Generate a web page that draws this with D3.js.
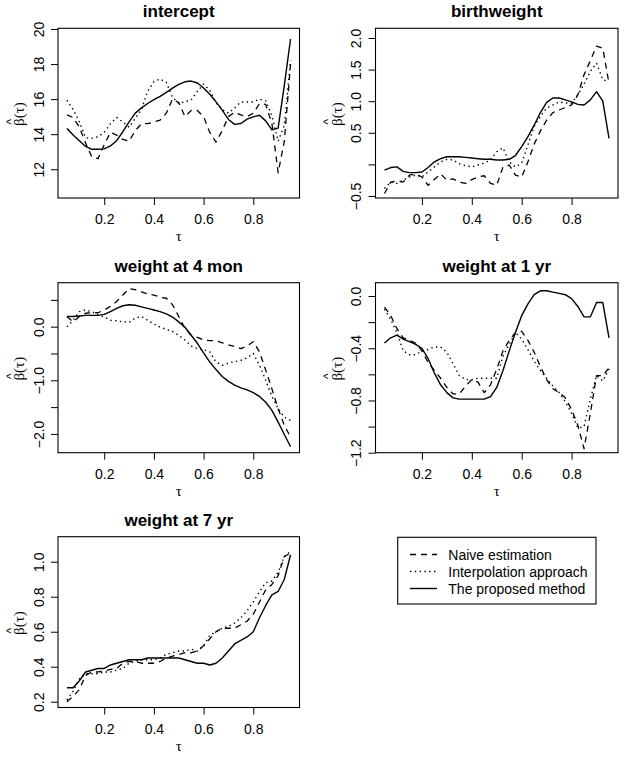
<!DOCTYPE html>
<html><head><meta charset="utf-8">
<script src="https://cdn.jsdelivr.net/npm/d3@7"></script>
<style>body{margin:0;background:#fff} svg{display:block}</style>
</head><body><svg id="c" width="624" height="760"></svg>
<script>
// ---------- data ----------
const tau = [0.05,0.075,0.1,0.125,0.15,0.175,0.2,0.225,0.25,0.275,0.3,0.325,0.35,0.375,0.4,0.425,0.45,0.475,0.5,0.525,0.55,0.575,0.6,0.625,0.65,0.675,0.7,0.725,0.75,0.775,0.8,0.825,0.85,0.875,0.9,0.925,0.95];

const interceptNaive = [15.1,14.95,14.4,13.5,12.7,12.6,13.4,14.1,13.95,13.7,13.6,14.2,14.6,14.6,14.7,14.8,15.2,16.0,15.8,15.0,15.35,15.35,15.0,14.1,13.55,14.2,15.0,15.25,15.1,15.0,15.2,15.75,15.7,14.6,11.8,13.6,18.0];
const interceptInterp = [15.94,15.4,14.7,13.8,13.76,13.85,14.1,14.6,14.95,14.7,14.4,14.9,15.4,16.45,17.0,17.15,16.95,16.1,15.75,15.85,15.95,16.45,16.85,16.5,15.8,15.4,15.2,15.5,15.84,15.84,15.84,16.0,15.9,15.05,13.6,14.5,18.2];
const interceptProposed = [14.33,13.95,13.63,13.30,13.14,13.14,13.16,13.33,13.63,14.14,14.70,15.20,15.50,15.75,15.97,16.16,16.39,16.63,16.84,16.99,17.03,16.92,16.63,16.28,15.84,15.37,14.84,14.56,14.61,14.86,14.99,15.08,14.76,14.25,14.35,16.8,19.43];

const birthNaive = [-0.46,-0.28,-0.26,-0.28,-0.17,-0.15,-0.20,-0.33,-0.24,-0.15,-0.25,-0.23,-0.28,-0.30,-0.24,-0.20,-0.18,-0.30,-0.33,-0.04,-0.01,-0.17,-0.20,0.04,0.32,0.53,0.70,0.82,0.86,0.90,0.94,1.10,1.42,1.64,1.87,1.84,1.28];
const birthInterp = [-0.38,-0.28,-0.30,-0.25,-0.20,-0.17,-0.20,-0.12,-0.04,0.04,0.08,0.07,0.01,-0.02,-0.04,-0.01,0.02,0.07,0.20,0.26,0.04,-0.04,0.02,0.31,0.60,0.76,0.89,0.94,0.99,0.97,0.97,1.10,1.27,1.47,1.60,1.34,1.31];
const birthProposed = [-0.09,-0.05,-0.04,-0.11,-0.13,-0.13,-0.12,-0.05,0.04,0.09,0.12,0.12,0.12,0.11,0.10,0.09,0.08,0.08,0.07,0.07,0.08,0.14,0.28,0.44,0.62,0.82,0.98,1.05,1.05,1.02,0.99,0.95,0.94,1.02,1.15,1.00,0.41];

const w4Naive = [0.19,0.09,0.19,0.25,0.26,0.26,0.31,0.38,0.47,0.59,0.71,0.69,0.65,0.61,0.59,0.55,0.53,0.41,0.19,-0.03,-0.16,-0.20,-0.25,-0.26,-0.26,-0.30,-0.34,-0.37,-0.41,-0.36,-0.28,-0.47,-0.81,-1.16,-1.53,-1.84,-2.06];
const w4Interp = [0.0,0.12,0.28,0.31,0.28,0.22,0.18,0.12,0.11,0.09,0.08,0.16,0.19,0.12,0.05,-0.01,-0.05,-0.09,-0.16,-0.25,-0.36,-0.41,-0.43,-0.47,-0.66,-0.72,-0.68,-0.65,-0.63,-0.58,-0.50,-0.72,-1.0,-1.3,-1.53,-1.69,-1.75];
const w4Proposed = [0.19,0.19,0.20,0.21,0.21,0.21,0.23,0.28,0.34,0.39,0.41,0.40,0.37,0.34,0.31,0.28,0.24,0.18,0.09,-0.01,-0.16,-0.31,-0.49,-0.66,-0.80,-0.93,-1.02,-1.09,-1.14,-1.18,-1.23,-1.30,-1.41,-1.56,-1.78,-2.01,-2.24];

const w1Naive = [-0.085,-0.15,-0.25,-0.32,-0.34,-0.36,-0.42,-0.51,-0.57,-0.63,-0.70,-0.75,-0.75,-0.69,-0.64,-0.66,-0.74,-0.68,-0.56,-0.42,-0.34,-0.28,-0.27,-0.34,-0.43,-0.54,-0.64,-0.71,-0.74,-0.78,-0.87,-0.99,-1.17,-0.90,-0.61,-0.61,-0.55];
const w1Interp = [-0.10,-0.18,-0.28,-0.42,-0.45,-0.45,-0.42,-0.41,-0.39,-0.39,-0.43,-0.52,-0.61,-0.64,-0.64,-0.63,-0.63,-0.63,-0.63,-0.46,-0.37,-0.28,-0.33,-0.41,-0.50,-0.57,-0.63,-0.69,-0.74,-0.81,-0.90,-1.01,-1.00,-0.79,-0.61,-0.65,-0.56];
const w1Proposed = [-0.36,-0.32,-0.30,-0.33,-0.35,-0.37,-0.40,-0.48,-0.59,-0.68,-0.74,-0.78,-0.79,-0.79,-0.79,-0.79,-0.79,-0.77,-0.70,-0.57,-0.42,-0.28,-0.15,-0.06,0.01,0.04,0.04,0.03,0.02,0.01,-0.02,-0.08,-0.16,-0.16,-0.05,-0.05,-0.32];

const w7Naive = [0.20,0.23,0.27,0.35,0.37,0.37,0.375,0.385,0.39,0.42,0.43,0.43,0.42,0.42,0.42,0.43,0.45,0.46,0.47,0.48,0.48,0.49,0.52,0.56,0.60,0.62,0.62,0.62,0.64,0.66,0.70,0.77,0.84,0.87,0.92,1.03,1.05];
const w7Interp = [0.21,0.26,0.33,0.36,0.36,0.36,0.37,0.37,0.38,0.39,0.42,0.43,0.44,0.44,0.44,0.45,0.47,0.48,0.49,0.49,0.50,0.49,0.52,0.58,0.60,0.62,0.63,0.65,0.68,0.72,0.77,0.83,0.88,0.89,0.94,1.03,1.06];
const w7Proposed = [0.28,0.28,0.32,0.37,0.38,0.39,0.39,0.41,0.42,0.43,0.44,0.44,0.44,0.45,0.45,0.45,0.45,0.45,0.45,0.44,0.43,0.42,0.42,0.41,0.42,0.45,0.49,0.53,0.55,0.57,0.60,0.68,0.75,0.81,0.83,0.90,1.04];

const titles = ["intercept","birthweight","weight at 4 mon","weight at 1 yr","weight at 7 yr"];
const xTicks = [0.2,0.4,0.6,0.8];
const xTickLabels = ["0.2","0.4","0.6","0.8"];
const interceptTicks = [12,14,16,18,20];
const interceptTickLabels = ["12","14","16","18","20"];
const birthTicks = [-0.5,0,0.5,1.0,1.5,2.0];
const birthTickLabels = ["\u22120.5","","0.5","1.0","1.5","2.0"];
const w4Ticks = [-2.0,-1.5,-1.0,-0.5,0.0,0.5];
const w4TickLabels = ["\u22122.0","","\u22121.0","","0.0",""];
const w1Ticks = [-1.2,-1.0,-0.8,-0.6,-0.4,-0.2,0.0];
const w1TickLabels = ["\u22121.2","","\u22120.8","","\u22120.4","","0.0"];
const w7Ticks = [0.2,0.4,0.6,0.8,1.0];
const w7TickLabels = ["0.2","0.4","0.6","0.8","1.0"];
const legendLabels = ["Naive estimation","Interpolation approach","The proposed method"];

// axis limits
const xLimits = [0.014, 0.986];
const yLimits = [[10.36,20.04],[-0.532,2.153],[-2.35,0.82],[-1.2,0.102],[0.167,1.143]];

// ---------- layout / style ----------
const boxes = [
  {x:58, y:28.3, w:241.5, h:169.7},
  {x:375.5, y:28.3, w:242.5, h:169.7},
  {x:58, y:282.7, w:241.5, h:170},
  {x:375.5, y:282.7, w:242.5, h:170},
  {x:58, y:536.7, w:241.5, h:170.8}
];
const styles = [
  {dash:"6,5", width:1.3},
  {dash:"1.4,3.4", width:1.4},
  {dash:null, width:1.4}
];
const sans = "'Liberation Sans', Arial, Helvetica, sans-serif";
const serif = "'Liberation Serif','DejaVu Serif',serif";

const panels = [
  {series:[interceptNaive,interceptInterp,interceptProposed], ticks:interceptTicks, labels:interceptTickLabels},
  {series:[birthNaive,birthInterp,birthProposed], ticks:birthTicks, labels:birthTickLabels},
  {series:[w4Naive,w4Interp,w4Proposed], ticks:w4Ticks, labels:w4TickLabels},
  {series:[w1Naive,w1Interp,w1Proposed], ticks:w1Ticks, labels:w1TickLabels},
  {series:[w7Naive,w7Interp,w7Proposed], ticks:w7Ticks, labels:w7TickLabels}
];

const svg = d3.select("#c");
svg.append("rect").attr("width",624).attr("height",760).attr("fill","#fff");

panels.forEach((p,i)=>{
  const B = boxes[i];
  const x = d3.scaleLinear().domain(xLimits).range([B.x, B.x+B.w]);
  const y = d3.scaleLinear().domain(yLimits[i]).range([B.y+B.h, B.y]);
  const g = svg.append("g");

  const line = d3.line().x((d,j)=>x(tau[j])).y(d=>y(d));
  p.series.forEach((s,k)=>{
    const path = g.append("path").datum(s).attr("d",line)
      .attr("fill","none").attr("stroke","#000")
      .attr("stroke-width",styles[k].width).attr("stroke-linejoin","round");
    if(styles[k].dash) path.attr("stroke-dasharray",styles[k].dash);
  });

  g.append("rect").attr("x",B.x).attr("y",B.y).attr("width",B.w).attr("height",B.h)
    .attr("fill","none").attr("stroke","#000").attr("stroke-width",1.1);

  const xa = g.append("g").attr("transform",`translate(0,${B.y+B.h})`)
    .call(d3.axisBottom(x).tickValues(xTicks).tickFormat((d,k)=>xTickLabels[k]).tickSize(7).tickSizeOuter(0));
  xa.select(".domain").remove();
  xa.attr("font-size",14).attr("font-family",sans);
  xa.selectAll("text").attr("y",26).attr("dy",0).attr("fill","#000");
  xa.selectAll("line").attr("stroke","#000");

  const ya = g.append("g").attr("transform",`translate(${B.x},0)`)
    .call(d3.axisLeft(y).tickValues(p.ticks).tickFormat((d,k)=>p.labels[k]).tickSize(7).tickSizeOuter(0));
  ya.select(".domain").remove();
  ya.attr("font-size",14).attr("font-family",sans);
  ya.selectAll("text").attr("transform","rotate(-90)").attr("x",0).attr("y",-14.5).attr("dy",0)
    .attr("text-anchor","middle").attr("fill","#000");
  ya.selectAll("line").attr("stroke","#000");

  // title
  g.append("text").attr("x",B.x+B.w/2).attr("y",B.y-11).attr("text-anchor","middle")
    .attr("font-family",sans).attr("font-weight","bold").attr("font-size",17).text(titles[i]);
  // x label
  g.append("text").attr("x",B.x+B.w/2).attr("y",B.y+B.h+43).attr("text-anchor","middle")
    .attr("font-family",serif).attr("font-size",15).text("\u03c4");
  // y label with hat
  const yl = g.append("g").attr("transform",`translate(${B.x-34},${B.y+B.h/2+1}) rotate(-90)`);
  const t = yl.append("text").attr("x",0).attr("y",0).attr("text-anchor","middle")
    .attr("font-family",serif).attr("font-size",15).text("\u03b2(\u03c4)");
  const node = t.node();
  const total = node.getComputedTextLength();
  const bw = node.getSubStringLength(0,1);
  yl.append("text").attr("x",-total/2+bw/2+0.5).attr("y",-9.5).attr("text-anchor","middle")
    .attr("font-family",sans).attr("font-size",12).text("^");
});

// legend
const lg = svg.append("g");
lg.append("rect").attr("x",397.7).attr("y",537.3).attr("width",198.3).attr("height",66.7)
  .attr("fill","none").attr("stroke","#000").attr("stroke-width",1.1);
const ly = d3.scalePoint().domain(legendLabels).range([554.5,588.5]);
legendLabels.forEach((lab,k)=>{
  const l = lg.append("line").attr("x1",410).attr("x2",437).attr("y1",ly(lab)).attr("y2",ly(lab))
    .attr("stroke","#000").attr("stroke-width",styles[k].width);
  if(styles[k].dash) l.attr("stroke-dasharray",styles[k].dash);
  lg.append("text").attr("x",448.3).attr("y",ly(lab)+5).attr("font-family",sans).attr("font-size",14).text(lab);
});
</script>
</body></html>
